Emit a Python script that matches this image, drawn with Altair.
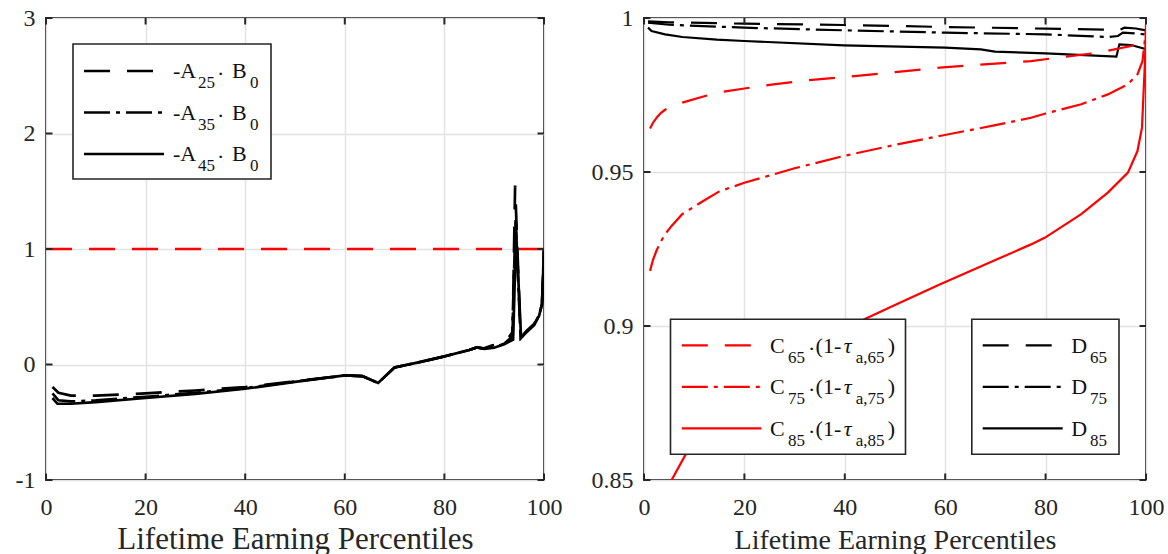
import altair as alt
import pandas as pd

# ---------------- data ----------------
# Left panel: -A_x * B_0 against lifetime earning percentile
a25_p = [1.3, 2.5, 5, 10, 20, 30, 40, 50, 60, 63.5, 66.7, 70, 75, 80, 85, 86.5, 88, 89.5, 91, 93, 93.7, 94.2, 95.3, 96.5, 98, 99, 99.6, 100]
a25_v = [-0.195, -0.245, -0.27, -0.27, -0.25, -0.225, -0.195, -0.145, -0.095, -0.1, -0.16, -0.025, 0.02, 0.07, 0.125, 0.148, 0.14, 0.165, 0.175, 0.24, 0.28, 1.55, 0.23, 0.29, 0.35, 0.43, 0.53, 1.0]
a35_p = [1.3, 2.5, 5, 10, 20, 30, 40, 50, 60, 63.5, 66.7, 70, 75, 80, 85, 86.5, 88, 90, 92, 93.6, 94.3, 95.3, 96.5, 98, 99, 99.6, 100]
a35_v = [-0.25, -0.31, -0.32, -0.31, -0.28, -0.245, -0.205, -0.148, -0.095, -0.1, -0.16, -0.025, 0.02, 0.07, 0.125, 0.148, 0.137, 0.15, 0.18, 0.24, 1.25, 0.23, 0.285, 0.345, 0.425, 0.525, 1.0]
a45_p = [1.3, 2.3, 5, 10, 20, 30, 40, 50, 60, 63.5, 66.7, 70, 75, 80, 85, 86.5, 88, 90, 92, 93.8, 94.4, 95.4, 96.5, 98, 99, 99.6, 100]
a45_v = [-0.29, -0.34, -0.34, -0.325, -0.29, -0.255, -0.21, -0.15, -0.095, -0.1, -0.16, -0.025, 0.02, 0.07, 0.125, 0.148, 0.135, 0.145, 0.175, 0.215, 1.15, 0.23, 0.28, 0.34, 0.42, 0.52, 1.0]
ref_p = [0, 100]
ref_v = [1, 1]

# Right panel: C_x (1 - tau_a,x) and D_x
c65_p = [1.2, 1.8, 2.6, 3.4, 4.2, 5.5, 7.6, 12, 15.9, 20, 25, 32.9, 39.8, 50, 58.9, 70, 77.1, 83.7, 90.4, 97, 99.3, 100]
c65_v = [0.9641, 0.9660, 0.9678, 0.9692, 0.9702, 0.9713, 0.9725, 0.9746, 0.9761, 0.9771, 0.9783, 0.9798, 0.9808, 0.9824, 0.9839, 0.9852, 0.9860, 0.9874, 0.9887, 0.9909, 0.9925, 0.9935]
c75_p = [1.2, 1.8, 2.5, 3.2, 4.2, 5.5, 7.6, 11.8, 15, 20, 30, 39.8, 50, 58.9, 70, 77.1, 80, 87.1, 92.4, 96.4, 98.3, 99.3, 99.9, 100]
c75_v = [0.9179, 0.9215, 0.9245, 0.9270, 0.9298, 0.9325, 0.9363, 0.9406, 0.9437, 0.9465, 0.9512, 0.9552, 0.9588, 0.9617, 0.9652, 0.9676, 0.9690, 0.9720, 0.9752, 0.9785, 0.9817, 0.9860, 0.9947, 0.9960]
c85_p = [1, 3, 5.5, 8.3, 12, 16, 20, 25, 30, 35, 40, 43.9, 50, 58.9, 70, 77.1, 79.9, 87.1, 92.4, 96.4, 98.3, 99.2, 99.5, 99.8, 100]
c85_v = [0.828, 0.840, 0.850, 0.8583, 0.8655, 0.872, 0.877, 0.883, 0.8885, 0.894, 0.8985, 0.9022, 0.9068, 0.9135, 0.9214, 0.9265, 0.9287, 0.9363, 0.9433, 0.9498, 0.9568, 0.9644, 0.9752, 0.9860, 0.9980]
d65_p = [0.8, 5, 20, 39.8, 60, 80, 92.4, 94.4, 95.7, 98, 100]
d65_v = [0.9989, 0.9986, 0.99815, 0.99773, 0.99708, 0.99654, 0.9962, 0.9958, 0.99686, 0.9966, 0.9960]
d75_p = [0.8, 5, 20, 39.8, 60, 80, 92.4, 94.4, 95.4, 98, 100]
d75_v = [0.99848, 0.9978, 0.99686, 0.9960, 0.99524, 0.9947, 0.99383, 0.99416, 0.99523, 0.9950, 0.9946]
d85_p = [0.8, 1.5, 4.2, 7.65, 14.5, 20, 39.8, 60, 67.1, 69.9, 80, 94.1, 94.7, 97, 99, 100]
d85_v = [0.99686, 0.99578, 0.9947, 0.99383, 0.99296, 0.99253, 0.99113, 0.99036, 0.98984, 0.98906, 0.98853, 0.98744, 0.99146, 0.99123, 0.99036, 0.9899]

x_ticks = [0, 20, 40, 60, 80, 100]
yl_ticks = [-1, 0, 1, 2, 3]
yr_ticks = [0.85, 0.9, 0.95, 1.0]
x_title = "Lifetime Earning Percentiles"

left_ages = ["25", "35", "45"]
c_ages = ["65", "75", "85"]

# ---------------- styling ----------------
FONT = "Liberation Serif"
TXT = "#262626"
RED = "#ff0000"
BLACK = "#000000"
DASH = [26, 17]
DASHDOT = [26, 6, 4, 6]
STYLES = [DASH, DASHDOT, None]

LW, LH = 498, 462
RW, RH = 502, 462
TICK = 6.5

xs = alt.Scale(domain=[0, 100], nice=False, zero=False)
yls = alt.Scale(domain=[-1, 3], nice=False, zero=False)
yrs = alt.Scale(domain=[0.85, 1.0], nice=False, zero=False)


def x_enc(title_size):
    return alt.X("p:Q", scale=xs,
                 axis=alt.Axis(values=x_ticks, title=x_title, titleFontSize=title_size,
                               labelExpr="toString(datum.value)"))


def y_enc(scale, vals):
    return alt.Y("v:Q", scale=scale,
                 axis=alt.Axis(values=vals, title=None, labelExpr="toString(datum.value)"))


def series(p, v, color, dash, width, X, Y):
    kw = dict(color=color, strokeWidth=width, clip=True)
    if dash is not None:
        kw["strokeDash"] = dash
    return alt.Chart(pd.DataFrame({"p": p, "v": v})).mark_line(**kw).encode(x=X, y=Y)


def ticks(X, Y, yvals, W, H):
    dx = pd.DataFrame({"p": x_ticks})
    dy = pd.DataFrame({"v": yvals})
    st = dict(color=TXT, strokeWidth=2)
    return [
        alt.Chart(dx).mark_rule(**st).encode(x=X, y=alt.value(H), y2=alt.value(H - TICK)),
        alt.Chart(dx).mark_rule(**st).encode(x=X, y=alt.value(0), y2=alt.value(TICK)),
        alt.Chart(dy).mark_rule(**st).encode(y=Y, x=alt.value(0), x2=alt.value(TICK)),
        alt.Chart(dy).mark_rule(**st).encode(y=Y, x=alt.value(W - TICK), x2=alt.value(W)),
    ]


DUMMY = pd.DataFrame({"d": [0]})


def box(x1, x2, y1, y2):
    return alt.Chart(DUMMY).mark_rect(fill="white", stroke=TXT, strokeWidth=1.6).encode(
        x=alt.value(x1), x2=alt.value(x2), y=alt.value(y1), y2=alt.value(y2))


def seg(x1, x2, y, color, dash, width):
    kw = dict(color=color, strokeWidth=width)
    if dash is not None:
        kw["strokeDash"] = dash
    return alt.Chart(DUMMY).mark_rule(**kw).encode(x=alt.value(x1), x2=alt.value(x2), y=alt.value(y))


def txt(s, x, y, size, italic=False):
    kw = dict(text=s, align="left", baseline="alphabetic", font=FONT, fontSize=size, color="#111111")
    if italic:
        kw["fontStyle"] = "italic"
    return alt.Chart(DUMMY).mark_text(**kw).encode(x=alt.value(x), y=alt.value(y))


MAIN, SUB = 22, 17

# ---------------- left panel ----------------
XL = x_enc(31)
YL = y_enc(yls, yl_ticks)
left_layers = [
    series(a25_p, a25_v, BLACK, DASH, 2.7, XL, YL),
    series(a35_p, a35_v, BLACK, DASHDOT, 2.7, XL, YL),
    series(a45_p, a45_v, BLACK, None, 2.7, XL, YL),
    series(ref_p, ref_v, RED, DASH, 2.7, XL, YL),
]
left_layers += ticks(XL, YL, yl_ticks, LW, LH)
left_layers.append(box(27, 225, 26, 161))
for i, age in enumerate(left_ages):
    ly = 53 + 41.5 * i
    bl = 60 + 41.5 * i
    left_layers += [
        seg(38, 118, ly, BLACK, STYLES[i], 2.7),
        txt("-A", 127, bl, MAIN),
        txt(age, 152, bl + 10, SUB),
        txt("·", 171, bl + 3, MAIN),
        txt("B", 186, bl, MAIN),
        txt("0", 204, bl + 10, SUB),
    ]
left = alt.layer(*left_layers).properties(width=LW, height=LH)

# ---------------- right panel ----------------
XR = x_enc(28)
YR = y_enc(yrs, yr_ticks)
right_layers = [
    series(d65_p, d65_v, BLACK, DASH, 2.2, XR, YR),
    series(d75_p, d75_v, BLACK, DASHDOT, 2.2, XR, YR),
    series(d85_p, d85_v, BLACK, None, 2.2, XR, YR),
    series(c65_p, c65_v, RED, DASH, 2.2, XR, YR),
    series(c75_p, c75_v, RED, DASHDOT, 2.2, XR, YR),
    series(c85_p, c85_v, RED, None, 2.2, XR, YR),
]
right_layers += ticks(XR, YR, yr_ticks, RW, RH)
right_layers.append(box(26.5, 261.5, 301.3, 436.3))
right_layers.append(box(327.8, 475, 301.3, 436.3))
for i, age in enumerate(c_ages):
    ly = 327.3 + 41.5 * i
    bl = 334.7 + 41.5 * i
    right_layers += [
        seg(37.8, 117.4, ly, RED, STYLES[i], 2.2),
        txt("C", 126, bl, MAIN),
        txt(age, 144, bl + 10, SUB),
        txt("·", 164, bl + 3, MAIN),
        txt("(1-", 171.6, bl, MAIN),
        txt("τ", 199.8, bl, MAIN, italic=True),
        txt("a," + age, 211.8, bl + 10, SUB),
        txt(")", 243.7, bl, MAIN),
        seg(338.7, 418.7, ly, BLACK, STYLES[i], 2.2),
        txt("D", 427.3, bl, MAIN),
        txt(age, 446, bl + 10, SUB),
    ]
right = alt.layer(*right_layers).properties(width=RW, height=RH)

chart = (
    alt.hconcat(left, right, spacing=100, bounds="flush")
    .properties(padding={"left": 14, "top": 5, "right": 0, "bottom": 0})
    .configure_view(stroke=TXT, strokeWidth=2)
    .configure_axis(labelFont=FONT, titleFont=FONT, labelColor=TXT, titleColor=TXT,
                    titleFontWeight="normal", domain=False, ticks=False, tickSize=0,
                    grid=True, gridColor="#e2e2e2", gridWidth=1.5,
                    labelFlush=False, labelOverlap=False, labelFontSize=24)
    .configure_axisX(labelBaseline="alphabetic", labelPadding=34,
                     titleBaseline="alphabetic", titleY=68)
    .configure_axisY(labelPadding=11)
)

chart.save("out.html", embed_options={"renderer": "svg", "actions": False})
